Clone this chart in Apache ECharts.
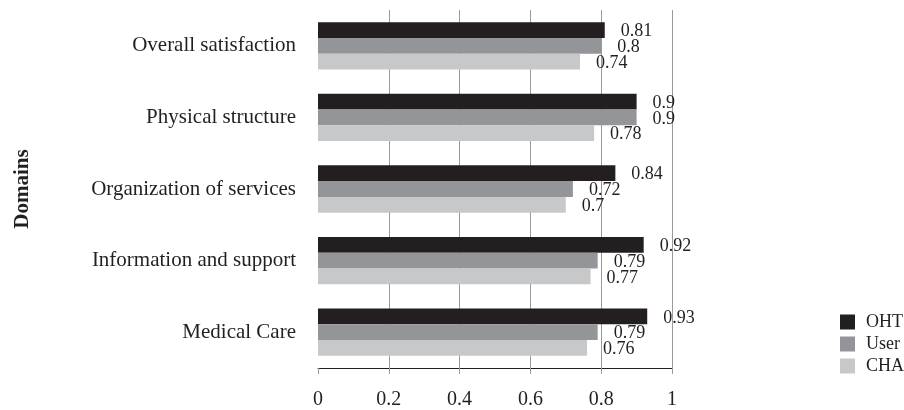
<!DOCTYPE html>
<html>
<head>
<meta charset="utf-8">
<script src="https://cdn.jsdelivr.net/npm/echarts@6/dist/echarts.min.js"></script>
<style>
  html, body { margin: 0; padding: 0; background: #ffffff; }
  #chart { width: 904px; height: 410px; }
</style>
</head>
<body>
<div id="chart"></div>
<script>
// Satisfaction scores by domain, listed bottom to top on the category axis
var domains = ['Medical Care', 'Information and support', 'Organization of services', 'Physical structure', 'Overall satisfaction'];
var ohtValues = [0.93, 0.92, 0.84, 0.9, 0.81];
var userValues = [0.79, 0.79, 0.72, 0.9, 0.8];
var chaValues = [0.76, 0.77, 0.7, 0.78, 0.74];
var seriesNames = ['OHT', 'User', 'CHA'];
var xTicks = [0, 0.2, 0.4, 0.6, 0.8, 1];

var serif = '"Liberation Serif", "DejaVu Serif", serif';
var textColor = '#231f20';
var gridColor = '#9a9a9a';

function barSeries(name, values, color) {
  return {
    name: name,
    type: 'bar',
    data: values,
    barGap: '0%',
    barCategoryGap: '34%',
    itemStyle: { color: color },
    label: {
      show: true,
      position: 'right',
      distance: 16,
      offset: [0, 1.5],
      fontFamily: serif,
      fontSize: 18,
      color: textColor
    }
  };
}

var chart = echarts.init(document.getElementById('chart'), null, { renderer: 'canvas' });
chart.setOption({
  animation: false,
  backgroundColor: '#ffffff',
  grid: { left: 318, right: 232, top: 10, bottom: 38, containLabel: false },
  legend: {
    orient: 'vertical',
    left: 835,
    top: 308,
    itemWidth: 15,
    itemHeight: 15,
    itemGap: 4,
    icon: 'rect',
    data: seriesNames,
    textStyle: { fontFamily: serif, fontSize: 18, color: textColor, padding: [0, 0, 0, 6] }
  },
  xAxis: {
    type: 'value',
    min: xTicks[0],
    max: xTicks[xTicks.length - 1],
    interval: 0.2,
    axisLine: { show: true, lineStyle: { color: '#231f20', width: 1 } },
    axisTick: { show: true, length: 6, lineStyle: { color: gridColor } },
    axisLabel: {
      margin: 22,
      fontFamily: serif,
      fontSize: 20,
      color: textColor,
      formatter: function (v) { return String(+v.toFixed(1)); }
    },
    splitLine: {
      show: true,
      lineStyle: { color: ['rgba(0,0,0,0)', gridColor, gridColor, gridColor, gridColor, gridColor], width: 1 }
    }
  },
  yAxis: {
    type: 'category',
    data: domains,
    name: 'Domains',
    nameLocation: 'middle',
    nameGap: 285,
    nameRotate: 90,
    nameTextStyle: { fontFamily: serif, fontSize: 21, fontWeight: 'bold', color: textColor },
    axisLine: { show: false },
    axisTick: { show: false },
    axisLabel: { margin: 22, fontFamily: serif, fontSize: 21, color: textColor }
  },
  series: [
    barSeries(seriesNames[0], ohtValues, '#231f20'),
    barSeries(seriesNames[1], userValues, '#939598'),
    barSeries(seriesNames[2], chaValues, '#c7c8ca')
  ]
});
</script>
</body>
</html>
